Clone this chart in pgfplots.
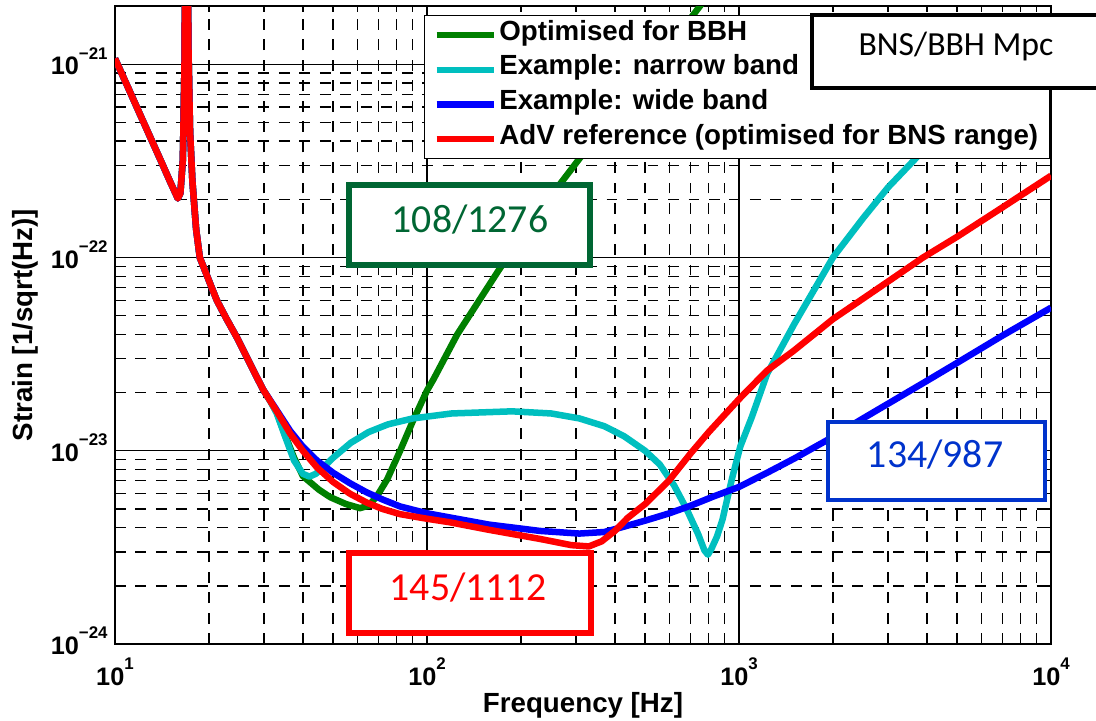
\documentclass[border=0pt]{standalone}
\usepackage{fontspec}
\setmainfont{Liberation Sans}
\newfontfamily\boxfont{Carlito}
\usepackage{pgfplots}
\usepackage{pgfplotstable}
\pgfplotsset{compat=1.18}
\usetikzlibrary{calc}

\definecolor{cgreen}{rgb}{0,0.5,0}
\definecolor{ccyan}{rgb}{0,0.75,0.75}
\definecolor{cblue}{rgb}{0,0,1}
\definecolor{cred}{rgb}{1,0,0}
\definecolor{boxgreen}{RGB}{0,102,51}
\definecolor{boxblue}{RGB}{0,51,204}

% 10^n tick labels, MATLAB style
\newcommand{\pw}[2]{#1\raisebox{0.62em}{\fontsize{7}{7}\selectfont #2}}

% strain curves (Hz, 1/sqrt(Hz))
\pgfplotstableread{
f h
10 1.07e-21
11 7.6e-22
12 5.55e-22
13 4.16e-22
14 3.19e-22
15 2.48e-22
15.9 2.02e-22
16.2 2.15e-22
16.5 3.2e-22
16.7 1e-21
16.85 1e-20
17.0 1e-20
17.2 1.2e-21
17.4 4.5e-22
17.7 2.5e-22
18.2 1.4e-22
18.7 1.0e-22
20 7.6e-23
21.2 6.0e-23
22.8 4.8e-23
24.6 3.85e-23
27 2.85e-23
29.8 2.08e-23
31.5 1.8e-23
33 1.58e-23
35 1.22e-23
37.5 9.2e-24
40 7.4e-24
45 6.3e-24
49 5.75e-24
55 5.3e-24
61 5.05e-24
65 5.2e-24
69 5.8e-24
74.5 7.1e-24
82 1.0e-23
90 1.42e-23
100 2.05e-23
105 2.35e-23
125 4.0e-23
169 8.5e-23
220 1.6e-22
267 2.4e-22
309 3.27e-22
400 5.5e-22
500 8.6e-22
600 1.25e-21
750 2e-21
900 3e-21
}\tabgreen

\pgfplotstableread{
f h
10 1.07e-21
11 7.6e-22
12 5.55e-22
13 4.16e-22
14 3.19e-22
15 2.48e-22
15.9 2.02e-22
16.2 2.15e-22
16.5 3.2e-22
16.7 1e-21
16.85 1e-20
17.0 1e-20
17.2 1.2e-21
17.4 4.5e-22
17.7 2.5e-22
18.2 1.4e-22
18.7 1.0e-22
20 7.6e-23
21.2 6.0e-23
22.8 4.8e-23
24.6 3.85e-23
27 2.85e-23
29.8 2.08e-23
31.5 1.8e-23
33 1.56e-23
35 1.2e-23
37.5 8.9e-24
40 7.6e-24
42 7.35e-24
44 7.6e-24
46.5 8.2e-24
50 9.2e-24
57 1.1e-23
65 1.25e-23
75 1.37e-23
90 1.47e-23
120 1.56e-23
187 1.6e-23
250 1.56e-23
308 1.47e-23
370 1.34e-23
428 1.19e-23
500 1.0e-23
557 8.5e-24
620 6.6e-24
679 5.0e-24
740 3.7e-24
775 3.05e-24
795 2.9e-24
815 3.1e-24
850 3.6e-24
885 4.4e-24
916 5.6e-24
950 7.2e-24
1009 1.05e-23
1100 1.5e-23
1230 2.5e-23
1500 4.5e-23
2000 1e-22
2500 1.6e-22
3000 2.3e-22
3613 3.15e-22
4500 4.6e-22
6000 7.2e-22
8000 1.1e-21
}\tabcyan

\pgfplotstableread{
f h
10 1.07e-21
11 7.6e-22
12 5.55e-22
13 4.16e-22
14 3.19e-22
15 2.48e-22
15.9 2.02e-22
16.2 2.15e-22
16.5 3.2e-22
16.7 1e-21
16.85 1e-20
17.0 1e-20
17.2 1.2e-21
17.4 4.5e-22
17.7 2.5e-22
18.2 1.4e-22
18.7 1.0e-22
20 7.6e-23
21.2 6.0e-23
22.8 4.8e-23
24.6 3.85e-23
27 2.85e-23
29.8 2.08e-23
33 1.62e-23
36.4 1.27e-23
40 1.05e-23
44.4 8.9e-24
50 7.7e-24
56.6 6.8e-24
64 6.1e-24
72 5.6e-24
82 5.15e-24
100 4.75e-24
120 4.5e-24
158 4.15e-24
230 3.85e-24
308 3.73e-24
370 3.8e-24
428 4.05e-24
500 4.35e-24
596 4.74e-24
700 5.2e-24
828 5.8e-24
1000 6.5e-24
1250 7.8e-24
1500 9.1e-24
2000 1.18e-23
2444 1.44e-23
3000 1.75e-23
4000 2.3e-23
5000 2.85e-23
7000 3.95e-23
10000 5.5e-23
}\tabblue

\pgfplotstableread{
f h
10 1.07e-21
11 7.6e-22
12 5.55e-22
13 4.16e-22
14 3.19e-22
15 2.48e-22
15.9 2.02e-22
16.2 2.15e-22
16.5 3.2e-22
16.7 1e-21
16.85 1e-20
17.0 1e-20
17.2 1.2e-21
17.4 4.5e-22
17.7 2.5e-22
18.2 1.4e-22
18.7 1.0e-22
20 7.6e-23
21.2 6.0e-23
22.8 4.8e-23
24.6 3.85e-23
27 2.85e-23
29.8 2.08e-23
33 1.6e-23
36.4 1.23e-23
40 1.0e-23
44.4 8.2e-24
50 6.9e-24
56.6 6.0e-24
64 5.4e-24
72 5.0e-24
82 4.7e-24
100 4.45e-24
118 4.27e-24
158 3.9e-24
230 3.5e-24
290 3.25e-24
330 3.2e-24
363 3.4e-24
400 3.85e-24
440 4.5e-24
500 5.3e-24
596 7.0e-24
700 9.7e-24
800 1.25e-23
1000 1.85e-23
1230 2.6e-23
1500 3.3e-23
2000 4.8e-23
3000 7.5e-23
3890 1.0e-22
5000 1.28e-22
7000 1.82e-22
10000 2.65e-22
}\tabred

\begin{document}
\begin{tikzpicture}
\begin{axis}[
  name=ax,
  scale only axis,
  width=388.44pt, height=264.77pt,
  xmode=log, ymode=log,
  xmin=10, xmax=10000, ymin=1e-24, ymax=2e-21,
  xtick={10,100,1000,10000},
  xticklabels={\pw{10}{1},\pw{10}{2},\pw{10}{3},\pw{10}{4}},
  ytick={1e-24,1e-23,1e-22,1e-21},
  yticklabels={\pw{10}{−24},\pw{10}{−23},\pw{10}{−22},\pw{10}{−21}},
  minor xtick={20,30,40,50,60,70,80,90,200,300,400,500,600,700,800,900,2000,3000,4000,5000,6000,7000,8000,9000},
  minor ytick={2e-24,3e-24,4e-24,5e-24,6e-24,7e-24,8e-24,9e-24,2e-23,3e-23,4e-23,5e-23,6e-23,7e-23,8e-23,9e-23,2e-22,3e-22,4e-22,5e-22,6e-22,7e-22,8e-22,9e-22},
  grid=both,
  major grid style={black, line width=0.55pt},
  minor grid style={black, line width=0.55pt, dash pattern=on 4.5pt off 4pt},
  axis line style={black, line width=0.7pt},
  tick align=inside,
  tick style={black, line width=0.55pt},
  major tick length=4pt, minor tick length=2.5pt,
  ticklabel style={font=\fontsize{10.5}{10.5}\selectfont\bfseries},
  xticklabel style={anchor=base, inner sep=0pt, yshift=-17pt},
  yticklabel style={anchor=base east, inner sep=0pt, xshift=-2.9pt, yshift=-4.4pt},
  xlabel={Frequency [Hz]},
  ylabel={Strain [1/sqrt(Hz)]},
  label style={font=\fontsize{11.5}{11.5}\selectfont\bfseries},
  xlabel style={at={(axis description cs:0.5,-0.0956)}, anchor=center},
  ylabel style={at={(axis description cs:-0.0962,0.5)}, anchor=center, rotate=0},
  legend cell align=left,
  legend image code/.code={\draw[#1, line width=2.6pt] (0pt,0pt) -- (23.7pt,0pt);},
  legend style={
    at={(axis description cs:0.330,0.986)}, anchor=north west,
    draw=black, line width=0.6pt, fill=white,
    font=\fontsize{11.5}{11.5}\selectfont\bfseries,
    inner xsep=3.7pt, inner ysep=2.5pt, row sep=3.4pt,
    nodes={inner xsep=1pt, inner ysep=0pt, text height=7.6pt, text depth=3.4pt},
  },
  every axis plot/.append style={line join=round},
]
\addplot[cgreen, line width=2.7pt] table[x=f, y=h] {\tabgreen};
\addlegendentry{Optimised for BBH}
\addplot[ccyan, line width=2.7pt] table[x=f, y=h] {\tabcyan};
\addlegendentry{Example: narrow band}
\addplot[cblue, line width=2.7pt] table[x=f, y=h] {\tabblue};
\addlegendentry{Example: wide band}
\addplot[cred, line width=2.7pt] table[x=f, y=h] {\tabred};
\addlegendentry{AdV reference (optimised for BNS range)}
\end{axis}

% annotation boxes, placed in reference pixel coordinates
\begin{scope}[shift={($(ax.south west)+(-115*0.415pt,644*0.415pt)$)}, x=0.415pt, y=-0.415pt]
  \draw[boxgreen, line width=2.1pt, fill=white] (349,185) rectangle (590,265);
  \node[boxgreen, font=\boxfont\fontsize{16.5}{16.5}\selectfont] at (470,220) {108/1276};
  \draw[cred, line width=2.1pt, fill=white] (349,553) rectangle (591,633);
  \node[cred, font=\boxfont\fontsize{16.5}{16.5}\selectfont] at (468,588) {145/1112};
  \draw[boxblue, line width=2pt, fill=white] (828,422) rectangle (1045,500);
  \node[boxblue, font=\boxfont\fontsize{16.5}{16.5}\selectfont] at (935,455) {134/987};
  \draw[black, line width=2pt, fill=white] (812,15) rectangle (1110,88);
  \node[black, font=\boxfont\fontsize{14}{14}\selectfont] at (956,47) {BNS/BBH Mpc};
  \pgfresetboundingbox
  \path[use as bounding box] (0,0) rectangle (1096,721);
\end{scope}
\end{tikzpicture}
\end{document}
